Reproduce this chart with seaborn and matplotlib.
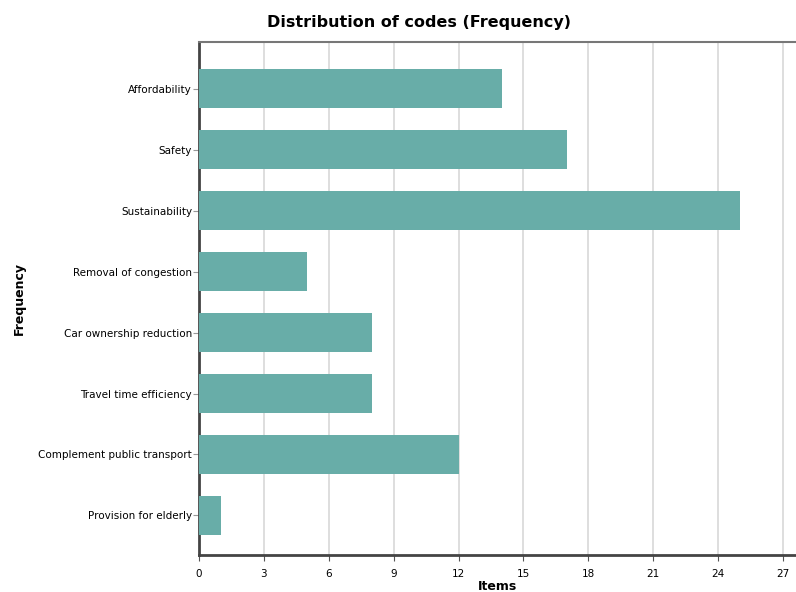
import pandas as pd
import matplotlib
matplotlib.use("Agg")
import matplotlib.pyplot as plt
import seaborn as sns

# Data
codes = ["Affordability", "Safety", "Sustainability", "Removal of congestion",
         "Car ownership reduction", "Travel time efficiency",
         "Complement public transport", "Provision for elderly"]
counts = [14, 17, 25, 5, 8, 8, 12, 1]
x_ticks = [0, 3, 6, 9, 12, 15, 18, 21, 24, 27]

df = pd.DataFrame({"code": codes, "count": counts})

sns.set_style("white")
plt.rcParams["font.family"] = ["DejaVu Sans"]
plt.rcParams["text.color"] = "black"
plt.rcParams["axes.labelcolor"] = "black"
plt.rcParams["xtick.color"] = "black"
plt.rcParams["ytick.color"] = "black"

fig = plt.figure(figsize=(7.96, 5.92), dpi=100)
ax = fig.add_axes([0.25, 0.0625, 0.75, 0.8665])

sns.barplot(data=df, x="count", y="code", color="#68ada8", saturation=1,
            width=0.64, ax=ax, zorder=3, linewidth=0, edgecolor="none")

ax.set_xlim(0, 27.6)
ax.set_ylim(7.65, -0.77)
ax.set_xticks(x_ticks)
ax.set_xticklabels([str(t) for t in x_ticks], fontsize=7.5)
ax.tick_params(axis="y", left=True, labelsize=7.5, length=4, color="#999999",
               labelcolor="black", pad=1)
ax.tick_params(axis="x", bottom=True, length=4, color="#555555",
               labelcolor="black", pad=6)
ax.grid(axis="x", color="#dedede", linewidth=1.4, zorder=0)
ax.set_axisbelow(True)

for s in ["left", "bottom"]:
    ax.spines[s].set_color("#444444")
    ax.spines[s].set_linewidth(2)
ax.spines["top"].set_color("#777777")
ax.spines["top"].set_linewidth(1.5)
ax.spines["right"].set_visible(False)

ax.set_xlabel("Items", fontsize=9, fontweight="bold", labelpad=1)
ax.set_ylabel("Frequency", fontsize=9, fontweight="bold")
ax.yaxis.set_label_coords(-0.29, 0.5)
fig.suptitle("Distribution of codes (Frequency)", fontsize=11.5, fontweight="bold",
             x=0.527, y=0.975)

fig.savefig("out.png", dpi=100)
